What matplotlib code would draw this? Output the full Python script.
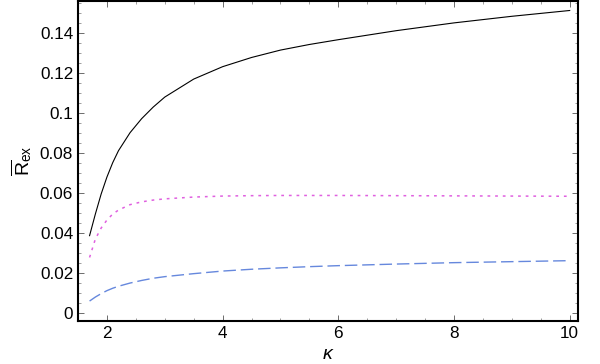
import matplotlib
matplotlib.use("Agg")
from matplotlib import pyplot as plt
from matplotlib.ticker import MultipleLocator, FuncFormatter

plt.rcParams['font.family'] = ['Liberation Sans', 'DejaVu Sans']
plt.rcParams['mathtext.fontset'] = 'custom'
plt.rcParams['mathtext.rm'] = 'Liberation Sans'
plt.rcParams['mathtext.it'] = 'Liberation Sans:italic'

kappa = [1.7, 1.8, 1.9, 2.0, 2.1, 2.2, 2.4, 2.6, 2.8, 3.0, 3.5, 4.0, 4.5, 5.0, 5.5, 6.0, 7.0, 8.0, 9.0, 10.0]
r_black = [0.0387, 0.0495, 0.0595, 0.0680, 0.0752, 0.0812, 0.0902, 0.0972, 0.1030, 0.1080, 0.1170, 0.1232, 0.1278, 0.1315, 0.1343, 0.1367, 0.1412, 0.1451, 0.1484, 0.1513]
r_magenta = [0.0278, 0.0370, 0.0425, 0.0465, 0.0495, 0.0515, 0.0542, 0.0556, 0.0565, 0.0571, 0.0580, 0.0585, 0.0587, 0.0588, 0.0588, 0.0588, 0.0587, 0.0586, 0.0585, 0.0584]
r_blue = [0.0060, 0.0080, 0.0097, 0.0112, 0.0124, 0.0134, 0.0150, 0.0163, 0.0174, 0.0182, 0.0197, 0.0210, 0.0219, 0.0226, 0.0232, 0.0237, 0.0245, 0.0252, 0.0257, 0.0262]

fig, ax = plt.subplots(figsize=(6, 3.64), dpi=100)
fig.subplots_adjust(left=0.13, right=0.963, top=0.997, bottom=0.118)

ax.plot(kappa, r_black, color='black', linewidth=0.8)
ax.plot(kappa, r_magenta, color='#e060e0', linewidth=1.1, linestyle=(0, (1.8, 3.2)))
ax.plot(kappa, r_blue, color='#6688dd', linewidth=1.0, linestyle=(0, (9, 3.5)))

ax.set_xlim(1.5, 10.14)
ax.set_ylim(-0.004, 0.156)
ax.xaxis.set_major_locator(MultipleLocator(2))
ax.xaxis.set_minor_locator(MultipleLocator(0.5))
ax.yaxis.set_major_locator(MultipleLocator(0.02))
ax.yaxis.set_minor_locator(MultipleLocator(0.005))
ax.yaxis.set_major_formatter(FuncFormatter(lambda v, p: ('%.2f' % v).rstrip('0').rstrip('.') if abs(v) > 1e-9 else '0'))

ax.tick_params(which='both', direction='in', labelsize=12.3, top=True, right=True)
ax.tick_params(which='major', length=4, width=0.6, colors='#555555', labelcolor='black')
ax.tick_params(which='minor', length=2, width=0.5, colors='#777777')
for s in ax.spines.values():
    s.set_linewidth(1.5)

ax.set_xlabel(r'$\kappa$', fontsize=14)
ax.set_ylabel(r'$\overline{\mathrm{R}}_{\mathrm{ex}}$', fontsize=14, labelpad=4)

fig.savefig('out.png')
